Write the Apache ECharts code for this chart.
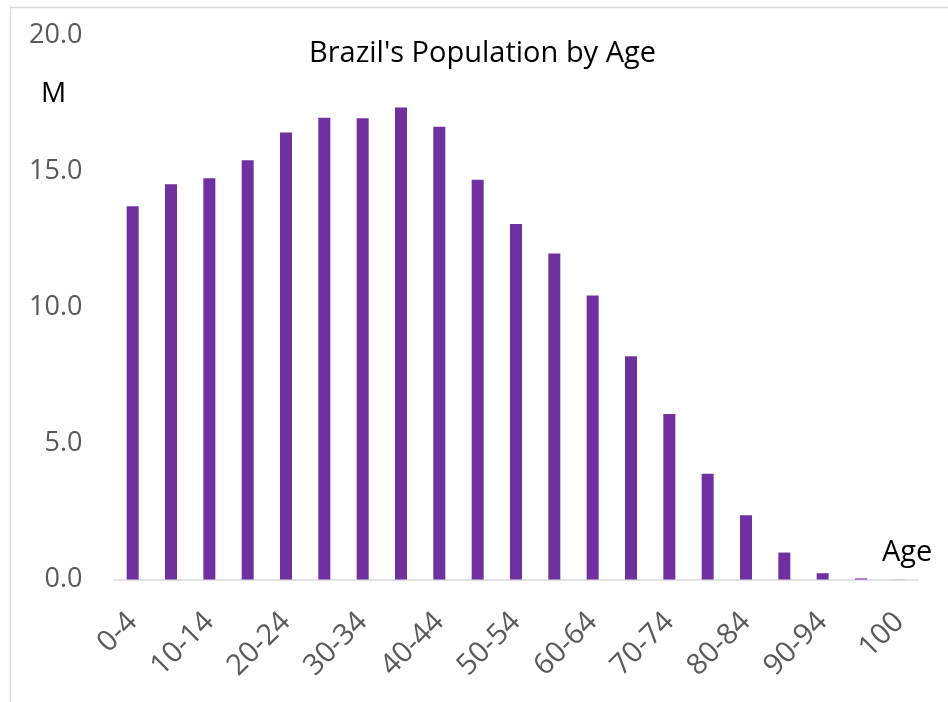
<!DOCTYPE html>
<html>
<head>
<meta charset="utf-8">
<script src="https://cdn.jsdelivr.net/npm/echarts@6/dist/echarts.min.js"></script>
<style>
html,body{margin:0;padding:0;background:#fff;}
#chart{width:948px;height:702px;}
</style>
</head>
<body>
<div id="chart"></div>
<script>
const categories = ['0-4','5-9','10-14','15-19','20-24','25-29','30-34','35-39','40-44','45-49','50-54','55-59','60-64','65-69','70-74','75-79','80-84','85-89','90-94','95-99','100'];
const population = [13.71,14.52,14.74,15.40,16.42,16.96,16.94,17.34,16.63,14.68,13.06,11.97,10.43,8.20,6.08,3.88,2.36,0.99,0.23,0.04,0.004];
const yTicks = [0,5,10,15,20];
const titleText = "Brazil's Population by Age";
const yUnit = 'M';
const xName = 'Age';

const chart = echarts.init(document.getElementById('chart'), null, {renderer:'canvas'});
const font = '"Open Sans", Lato, sans-serif';
chart.setOption({
  animation:false,
  backgroundColor:'#fff',
  graphic:[
    {type:'rect',left:8,top:5,shape:{width:980,height:740},
     style:{fill:'none',stroke:'#D9D9D9',lineWidth:1.5},silent:true},
    {type:'text',x:482.5,y:54,style:{text:titleText,font:'29px '+font,fill:'#000',align:'center',verticalAlign:'middle'}},
    {type:'text',x:53.5,y:94,style:{text:yUnit,font:'28px '+font,fill:'#000',align:'center',verticalAlign:'middle'}},
    {type:'text',x:882,y:553,style:{text:xName,font:'29px '+font,fill:'#000',align:'left',verticalAlign:'middle'}}
  ],
  grid:{left:113.5,right:29.5,top:35,bottom:122.5,containLabel:false},
  xAxis:{type:'category',data:categories,
    axisLine:{show:true,lineStyle:{color:'#D9D9D9',width:1.5}},
    axisTick:{show:false},
    axisLabel:{interval:1,rotate:45,color:'#595959',fontFamily:font,fontSize:29,margin:38}},
  yAxis:{type:'value',min:yTicks[0],max:yTicks[yTicks.length-1],interval:5,
    axisLine:{show:false},axisTick:{show:false},splitLine:{show:false},
    axisLabel:{color:'#595959',fontFamily:font,fontSize:27,margin:31,
      formatter:v=>v.toFixed(1)}},
  series:[{type:'bar',data:population,barWidth:12,
    itemStyle:{color:'#7030A0'}}]
});
</script>
</body>
</html>
